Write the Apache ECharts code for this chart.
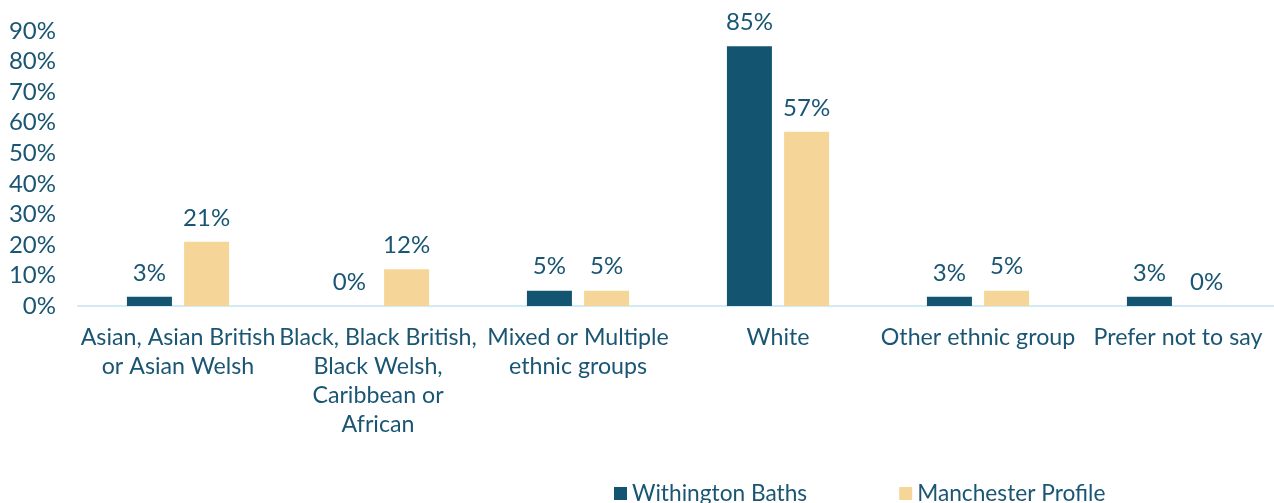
<!DOCTYPE html>
<html><head><meta charset="utf-8">
<script src="https://cdn.jsdelivr.net/npm/echarts@6/dist/echarts.min.js"></script>
<style>html,body{margin:0;padding:0;background:#fff;overflow:hidden}#c{width:1278px;height:503px}</style>
</head><body><div id="c"></div>
<script>
const categories = ["Asian, Asian British\nor Asian Welsh", "Black, Black British,\nBlack Welsh,\nCaribbean or\nAfrican", "Mixed or Multiple\nethnic groups", "White", "Other ethnic group", "Prefer not to say"];
const withington = [3, 0, 5, 85, 3, 3];
const manchester = [21, 12, 5, 57, 5, 0];
const seriesNames = ["Withington Baths", "Manchester Profile"];
const yTicks = {min: 0, max: 90, interval: 10};

const txt = '#1a5674';
const font = 'Lato';
const chart = echarts.init(document.getElementById('c'));
const lbl = {show: true, position: 'top', distance: 12, color: txt, fontFamily: font, fontSize: 24, formatter: '{c}%'};
chart.setOption({
  animation: false,
  textStyle: {fontFamily: font},
  grid: {left: 78, right: 0, top: 31, bottom: 197},
  legend: {
    bottom: -7, left: 609, itemGap: 92, itemWidth: 13, itemHeight: 13, icon: 'rect',
    textStyle: {color: txt, fontFamily: font, fontSize: 22.7},
    data: seriesNames
  },
  xAxis: {
    type: 'category', data: categories,
    axisLine: {lineStyle: {color: '#d2e9f6', width: 2}},
    axisTick: {show: false},
    axisLabel: {color: txt, fontFamily: font, fontSize: 23.2, lineHeight: 29, margin: 17, interval: 0}
  },
  yAxis: {
    type: 'value', min: yTicks.min, max: yTicks.max, interval: yTicks.interval,
    splitLine: {show: false}, axisLine: {show: false}, axisTick: {show: false},
    axisLabel: {color: txt, fontFamily: font, fontSize: 24, margin: 22, formatter: '{value}%'}
  },
  series: [
    {name: seriesNames[0], type: 'bar', data: withington, barWidth: 45, barGap: '27%', itemStyle: {color: '#135571'}, label: lbl},
    {name: seriesNames[1], type: 'bar', data: manchester, barWidth: 45, itemStyle: {color: '#f6d698'}, label: lbl}
  ]
});
</script></body></html>
